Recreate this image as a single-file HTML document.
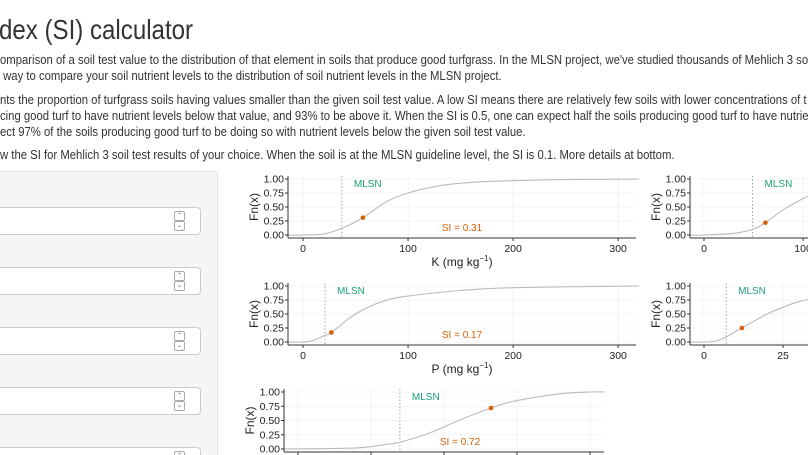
<!DOCTYPE html>
<html><head><meta charset="utf-8">
<style>
html,body{margin:0;padding:0;width:808px;height:455px;overflow:hidden;background:#fff;font-family:"Liberation Sans",sans-serif;color:#333;position:relative}
.t{position:absolute;left:0;white-space:nowrap;font-size:13px;line-height:16px;transform:scaleX(0.87);transform-origin:0 0}
#title{position:absolute;left:-1px;top:14px;font-size:28px;white-space:nowrap;color:#333;transform:scaleX(0.86);transform-origin:0 0}
#side{position:absolute;left:-20px;top:171px;width:236px;height:300px;background:#f5f5f5;border:1px solid #e3e3e3;border-radius:4px}
.inp{position:absolute;left:-10px;width:209px;height:26px;background:#fff;border:1px solid #ccc;border-radius:4px}
.sp{position:absolute;left:183px;width:9px;height:8px;border:1px solid #aaa;border-radius:2px;font-size:6px;line-height:8px;text-align:center;color:#555}
svg{position:absolute;left:0;top:0;overflow:hidden}
</style></head><body>
<div id="title">dex (SI) calculator</div>
<div class="t" style="top:52px">omparison of a soil test value to the distribution of that element in soils that produce good turfgrass. In the MLSN project, we've studied thousands of Mehlich 3 so</div>
<div class="t" style="top:68px">&nbsp;way to compare your soil nutrient levels to the distribution of soil nutrient levels in the MLSN project.</div>
<div class="t" style="top:92px">nts the proportion of turfgrass soils having values smaller than the given soil test value. A low SI means there are relatively few soils with lower concentrations of t</div>
<div class="t" style="top:108px">cing good turf to have nutrient levels below that value, and 93% to be above it. When the SI is 0.5, one can expect half the soils producing good turf to have nutrie</div>
<div class="t" style="top:124px">ect 97% of the soils producing good turf to be doing so with nutrient levels below the given soil test value.</div>
<div class="t" style="top:147px">w the SI for Mehlich 3 soil test results of your choice. When the soil is at the MLSN guideline level, the SI is 0.1. More details at bottom.</div>

<div id="side"></div>
<div id="inputs"></div>
<svg id="chart" width="808" height="455"></svg>

<script>
const inputTops=[207,267,327,387,447];
const inpWrap=document.getElementById('inputs');
inputTops.forEach((t,i)=>{
  const d=document.createElement('div');
  d.className='inp';d.style.top=t+'px';
  
  
  d.innerHTML='<div class="sp" style="top:3px">&#8963;</div><div class="sp" style="top:13px">&#8964;</div>';
  inpWrap.appendChild(d);
});

// ---- data ----
const kX=[0,20,37,57,80,100,130,160,200,250,320];
const kF=[0,0.02,0.12,0.31,0.6,0.75,0.88,0.94,0.97,0.99,1.0];
const kMLSN=37, kPtX=57, kSI=0.31;
const pX=[0,10,21,27,50,75,100,150,200,320];
const pF=[0,0.03,0.12,0.17,0.5,0.72,0.82,0.92,0.97,1.0];
const pMLSN=21, pPtX=27, pSI=0.17;
const cX=[-50,200,300,349,450,550,661,750,900,1000,1050];
const cF=[0,0.02,0.08,0.12,0.28,0.5,0.72,0.85,0.97,1.0,1.0];
const cMLSN=349, cPtX=661, cSI=0.72;
const mX=[-14,0,30,49,62,80,100,120];
const mF=[0,0,0.03,0.1,0.22,0.45,0.65,0.8];
const mMLSN=49, mPtX=62, mSI=0.22;
const sX=[-5,0,4,7,12,20,25,30,40];
const sF=[0,0,0.02,0.09,0.25,0.5,0.62,0.72,0.85];
const sMLSN=7, sPtX=12, sSI=0.25;
const yTicks=[0,0.25,0.5,0.75,1];
const yTickLabels=['0.00','0.25','0.50','0.75','1.00'];

const svg=document.getElementById('chart');
const NS='http://www.w3.org/2000/svg';
function mk(tag,attrs,name,txt){
  const e=document.createElementNS(NS,tag);
  for(const k in attrs)e.setAttribute(k,attrs[k]);
  
  
  if(txt!==undefined)e.textContent=txt;
  svg.appendChild(e);return e;
}
function smooth(pts){
  let d='M'+pts[0][0].toFixed(1)+','+pts[0][1].toFixed(1);
  for(let i=0;i<pts.length-1;i++){
    const p0=pts[Math.max(0,i-1)],p1=pts[i],p2=pts[i+1],p3=pts[Math.min(pts.length-1,i+2)];
    const c1=[p1[0]+(p2[0]-p0[0])/6,p1[1]+(p2[1]-p0[1])/6];
    const c2=[p2[0]-(p3[0]-p1[0])/6,p2[1]-(p3[1]-p1[1])/6];
    d+='C'+c1[0].toFixed(1)+','+c1[1].toFixed(1)+' '+c2[0].toFixed(1)+','+c2[1].toFixed(1)+' '+p2[0].toFixed(1)+','+p2[1].toFixed(1);
  }
  return d;
}
function plot(o,xs,fs,mlsn,ptx,si,xticks,xtitle){
  const sx=v=>o.x0+(v-o.d0)*(o.x1-o.x0)/(o.d1-o.d0);
  const sy=v=>o.y0+(1-v)*(o.y1-o.y0);
  yTicks.forEach(t=>mk('line',{x1:o.ax,x2:o.x1,y1:sy(t),y2:sy(t),stroke:'#ececec','stroke-width':0.6},'y-gridline'));
  xticks.forEach(t=>mk('line',{x1:sx(t),x2:sx(t),y1:o.y0-3,y2:o.y1+2,stroke:'#ececec','stroke-width':0.6},'x-gridline'));
  mk('line',{x1:sx(mlsn),x2:sx(mlsn),y1:o.y0-3,y2:o.y1+2,stroke:'#7a9a9a','stroke-width':0.8,'stroke-dasharray':'1.5,2'},'mlsn-line');
  mk('text',{x:sx(mlsn)+12,y:o.y0+8,'font-size':10,fill:'#1b9e77'},'mlsn-label','MLSN');
  const pts=[[o.ax,sy(0)]];
  xs.forEach((v,i)=>{const px=sx(v);if(px>o.ax)pts.push([px,sy(fs[i])]);});
  mk('path',{d:smooth(pts),fill:'none',stroke:'#bbb','stroke-width':1.1},'ecdf-curve');
  mk('circle',{cx:sx(ptx),cy:sy(si),r:2.3,fill:'#d95f02'},'si-point');
  if(o.si) mk('text',{x:o.si,y:sy(0)-4,'font-size':10,fill:'#d95f02','text-anchor':'middle'},'si-label','SI = '+si.toFixed(2));
  mk('line',{x1:o.ax,x2:o.ax,y1:o.y0-3,y2:o.y1+3,stroke:'#333','stroke-width':1},'y-axis');
  mk('line',{x1:o.ax,x2:o.x1,y1:o.y1+3,y2:o.y1+3,stroke:'#333','stroke-width':1},'x-axis');
  yTicks.forEach((t,i)=>{
    mk('line',{x1:o.ax-3,x2:o.ax,y1:sy(t),y2:sy(t),stroke:'#333'},'y-tick');
    mk('text',{x:o.ax-4,y:sy(t)+3.5,'font-size':10.5,'text-anchor':'end',fill:'#222'},'y-tick-label',yTickLabels[i]);
  });
  xticks.forEach(t=>{
    mk('line',{x1:sx(t),x2:sx(t),y1:o.y1+3,y2:o.y1+6,stroke:'#333'},'x-tick');
    mk('text',{x:sx(t),y:o.y1+17,'font-size':10.5,'text-anchor':'middle',fill:'#222'},'x-tick-label',String(t));
  });
  mk('text',{x:0,y:0,'font-size':12,'text-anchor':'middle',fill:'#222',transform:'translate('+(o.ax-30)+','+((o.y0+o.y1)/2)+') rotate(-90)'},'y-axis-title','Fn(x)');
  if(xtitle){
    const tt=mk('text',{x:(o.ax+o.x1)/2,y:o.y1+31,'font-size':12,'text-anchor':'middle',fill:'#222'},'x-axis-title','');
    tt.innerHTML=xtitle+' (mg kg<tspan dy="-5" font-size="8">\u22121</tspan><tspan dy="5">)</tspan>';
  }
}
plot({ax:288,x0:303,x1:636,d0:0,d1:317,y0:179,y1:235,si:462},kX,kF,kMLSN,kPtX,kSI,[0,100,200,300],'K');
plot({ax:288,x0:303,x1:636,d0:0,d1:317,y0:286,y1:342,si:462},pX,pF,pMLSN,pPtX,pSI,[0,100,200,300],'P');
plot({ax:284,x0:298,x1:604,d0:0,d1:1048,y0:392,y1:449,si:460},cX,cF,cMLSN,cPtX,cSI,[0,250,500,750,1000],null);
plot({ax:690,x0:704,x1:808,d0:0,d1:105,y0:179,y1:235,si:0},mX,mF,mMLSN,mPtX,mSI,[0,100],null);
plot({ax:690,x0:704,x1:808,d0:0,d1:32.9,y0:286,y1:342,si:0},sX,sF,sMLSN,sPtX,sSI,[0,25],null);
</script>
</body></html>
